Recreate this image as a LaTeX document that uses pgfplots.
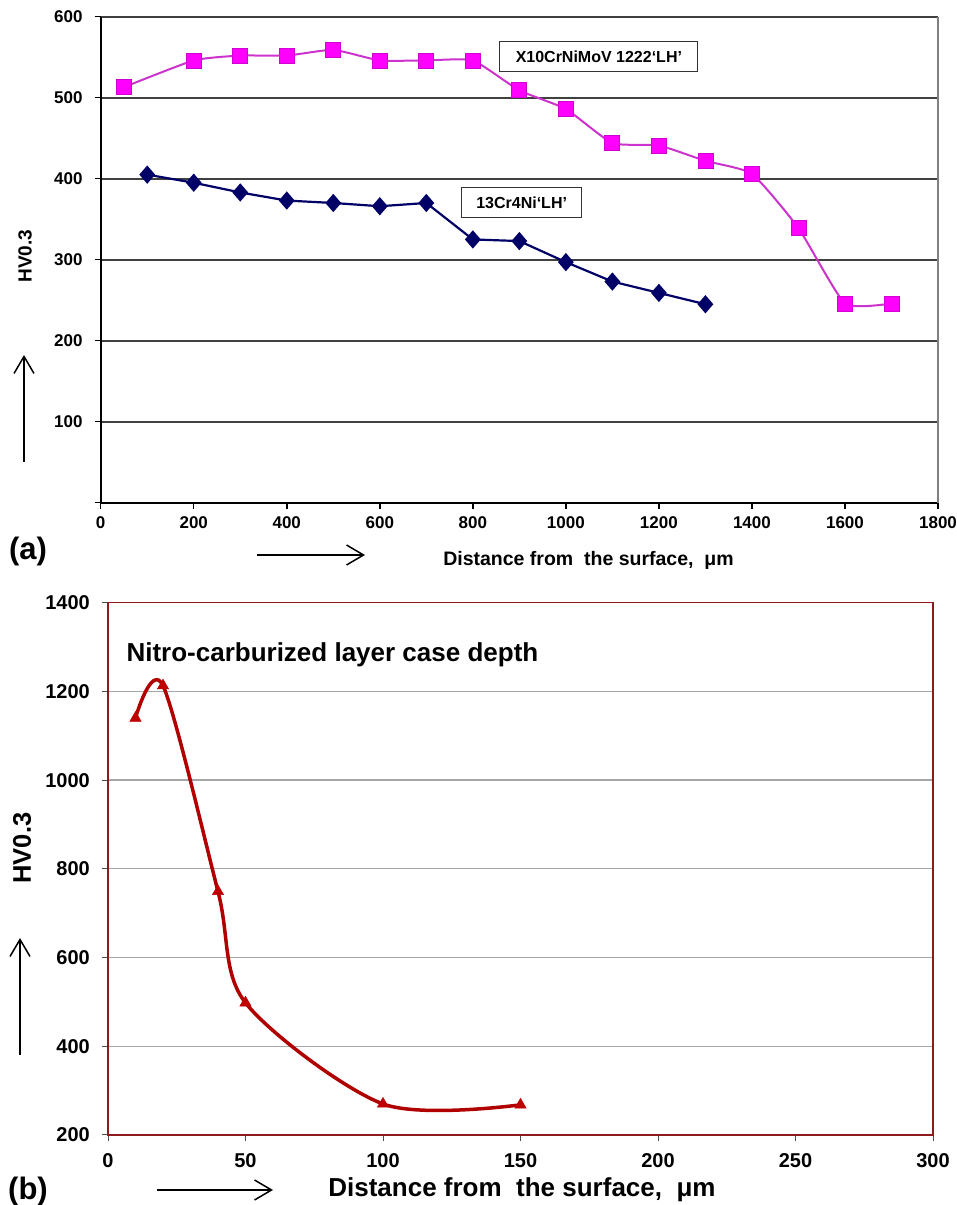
\documentclass[border=0pt]{standalone}
\usepackage{fontspec}
\setmainfont{Liberation Sans}
\usepackage{pgfplots}
\pgfplotsset{compat=1.18}
\usetikzlibrary{arrows.meta}

\definecolor{pinkline}{HTML}{CC33CC}
\definecolor{pinkfill}{HTML}{FF00FF}
\definecolor{pinkedge}{HTML}{D000D0}
\definecolor{navy}{HTML}{000066}
\definecolor{frameRed}{HTML}{8C1C1C}
\definecolor{curveRed}{HTML}{B00000}
\definecolor{markRed}{HTML}{C00000}

\newcommand\fs[1]{\fontsize{#1}{#1}\selectfont}

\tikzset{bigarrow/.style={line width=1.5pt, -{Straight Barb[length=17pt,width=20pt,line width=1.5pt]}}}

\begin{document}
\begin{tikzpicture}
\useasboundingbox (0pt,0pt) rectangle (957pt,1205pt);

% ---------------- (a) hardness profiles of the two steels ----------------
\begin{axis}[
  at={(100.7pt,702.3pt)}, anchor=south west,
  scale only axis, width=837.3pt, height=486pt,
  xmin=0, xmax=1800, ymin=0, ymax=600,
  xtick={0,200,...,1800}, ytick={0,100,...,600},
  yticklabels={,100,200,300,400,500,600},
  axis x line*=bottom, axis y line*=left,
  axis line style={-, black, line width=2pt},
  ymajorgrids, major grid style={black!75, line width=1.8pt},
  tick align=outside, major tick length=6pt,
  tick style={black, line width=1.5pt},
  /pgf/number format/assume math mode=true,
  /pgf/number format/1000 sep={},
  ticklabel style={font=\bfseries\fs{17}, inner sep=0pt},
  yticklabel style={anchor=east, xshift=-12pt},
  xticklabel style={anchor=north, yshift=-8pt},
  clip=false,
]
\draw[black!50, line width=1.5pt] (axis cs:1800,0) -- (axis cs:1800,600);

\addplot[pinkline, line width=2pt, smooth, tension=0.3,
  mark=square*, mark size=7.5pt,
  mark options={fill=pinkfill, draw=pinkedge, line width=0.8pt, solid}]
  coordinates {
  (50,513) (200,546) (300,552) (400,552) (500,559) (600,546) (700,546)
  (800,546) (900,509) (1000,486) (1100,444) (1200,441) (1300,422)
  (1400,406) (1500,339) (1600,246) (1700,246)};

\addplot[navy, line width=2.2pt,
  mark=diamond*, mark size=7.5pt,
  mark options={fill=navy, draw=navy, solid, xscale=1.15}]
  coordinates {
  (100,405) (200,395) (300,383) (400,373) (500,370) (600,366) (700,370)
  (800,325) (900,323) (1000,297) (1100,273) (1200,259) (1300,245)};

\node[draw=black!80, line width=1pt, fill=white, font=\bfseries\fs{16},
  minimum width=198pt, minimum height=30pt, inner sep=0pt]
  at (axis cs:1071,551) {X10CrNiMoV 1222‘LH’};
\node[draw=black!80, line width=1pt, fill=white, font=\bfseries\fs{16},
  minimum width=120pt, minimum height=30pt, inner sep=0pt]
  at (axis cs:905,370) {13Cr4Ni‘LH’};
\end{axis}

\node[rotate=90, font=\bfseries\fs{19}] at (25pt,949pt) {HV0.3};
\draw[bigarrow] (24pt,743pt) -- (24pt,850pt);
\node[font=\bfseries\fs{31}] at (28pt,654pt) {(a)};
\draw[bigarrow] (257pt,650pt) -- (365pt,650pt);
\node[font=\bfseries\fs{19.5}] at (588.5pt,645pt) {Distance from\ \ the surface,\ \ μm};

% ---------------- (b) nitro-carburized case depth ----------------
\begin{axis}[
  at={(108pt,70pt)}, anchor=south west,
  scale only axis, width=825pt, height=532.3pt,
  xmin=0, xmax=300, ymin=200, ymax=1400,
  xtick={0,50,...,300}, ytick={200,400,...,1400},
  axis line style={frameRed, line width=1.5pt},
  ymajorgrids, major grid style={black!35, line width=1.3pt},
  tick align=outside, major tick length=6pt,
  tick style={black!70, line width=1pt},
  xtick pos=left, ytick pos=left,
  /pgf/number format/assume math mode=true,
  /pgf/number format/1000 sep={},
  ticklabel style={font=\bfseries\fs{20}, inner sep=0pt},
  yticklabel style={anchor=east, xshift=-12pt},
  xticklabel style={anchor=north, yshift=-12pt},
  clip=false,
]
\addplot[curveRed, line width=3.5pt, smooth,
  mark=triangle*, mark size=6.5pt,
  mark options={fill=markRed, draw=markRed, line width=0.5pt, solid}]
  coordinates {(10,1140) (20,1213) (40,749) (50,498) (100,270) (150,268)};
\end{axis}

\node[anchor=west, font=\bfseries\fs{26}] at (123pt,550pt) {Nitro-carburized layer case depth};
\node[rotate=90, font=\bfseries\fs{25.5}] at (22pt,357pt) {HV0.3};
\draw[bigarrow] (20pt,150pt) -- (20pt,267pt);
\node[font=\bfseries\fs{31}] at (28pt,14pt) {(b)};
\draw[bigarrow] (157pt,15pt) -- (273pt,15pt);
\node[font=\bfseries\fs{26}] at (522pt,15pt) {Distance from\ \ the surface,\ \ μm};
\end{tikzpicture}
\end{document}
